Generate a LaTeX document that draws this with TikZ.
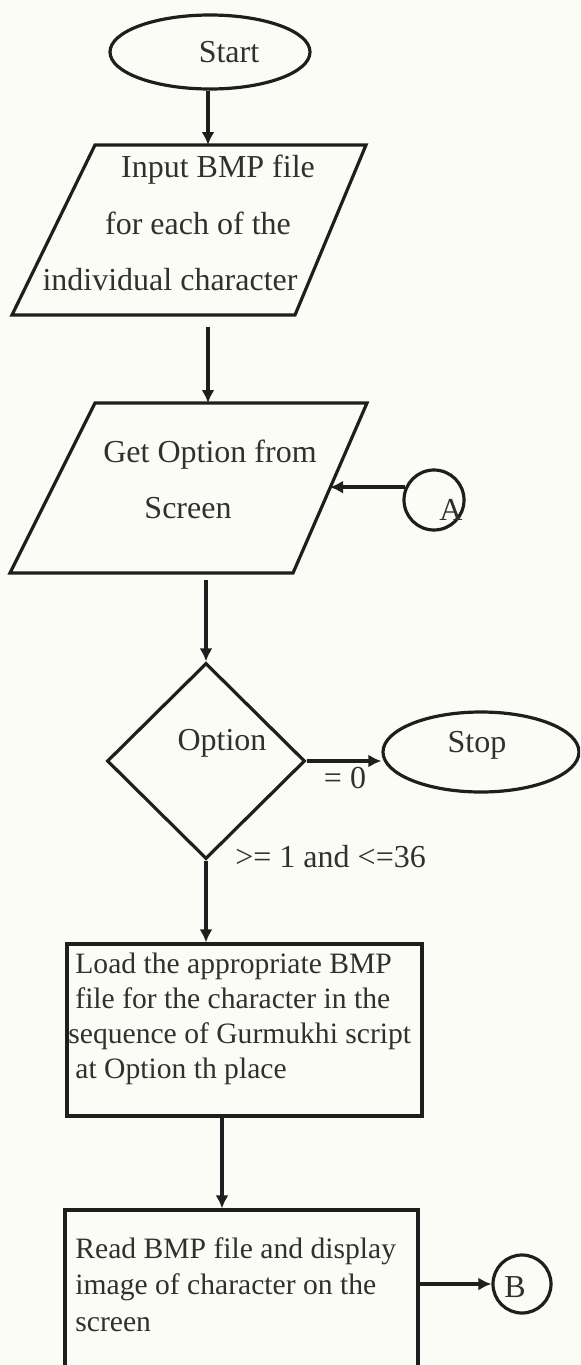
\documentclass[tikz,border=0pt]{standalone}
\usepackage{fontspec}
\setmainfont{Liberation Serif}
\usetikzlibrary{shapes.geometric,arrows.meta,calc}
\definecolor{ink}{HTML}{1E1E1E}
\definecolor{txtc}{HTML}{303030}
\definecolor{paper}{HTML}{FCFCF7}
\begin{document}
\begin{tikzpicture}[x=0.5pt,y=-0.5pt,
 line/.style={draw=ink,line width=1.6pt,line join=miter},
 arr/.style={draw=ink,line width=1.7pt,-{Latex[length=6.5pt,width=6.5pt]}},
 term/.style={ellipse,draw=ink,line width=1.6pt,inner sep=0pt},
 conn/.style={circle,draw=ink,line width=1.6pt,inner sep=0pt},
 proc/.style={rectangle,draw=ink,line width=1.6pt,inner sep=0pt},
 dec/.style={diamond,draw=ink,line width=1.6pt,inner sep=0pt},
 txt/.style={text=txtc,inner sep=0pt,font=\fontsize{16pt}{19pt}\selectfont},
 btxt/.style={text=txtc,inner sep=0pt,align=left,font=\fontsize{14.8pt}{17.5pt}\selectfont},
 btxtb/.style={text=txtc,inner sep=0pt,align=left,font=\fontsize{14.8pt}{18.25pt}\selectfont}]
\fill[paper] (0,0) rectangle (580,1365);
\useasboundingbox (0,0) rectangle (580,1365);
\clip (0,0) rectangle (580,1365);

% Start
\node[term,minimum width=100pt,minimum height=37pt] (start) at (210,52) {};
\node[txt,anchor=base] (starttxt) at (229,62) {Start};

% Input parallelogram
\draw[line] (95,145) coordinate (p1tl) -- (366,145) coordinate (p1tr) -- (295,315) coordinate (p1br) -- (12,315) coordinate (p1bl) -- cycle;
\coordinate (p1t) at (208,145);
\coordinate (p1b) at (208,315);
\node[txt,anchor=base] (in1) at (218,177) {Input BMP file};
\node[txt,anchor=base] (in2) at (198,234) {for each of the};
\node[txt,anchor=base] (in3) at (170,290) {individual character};

% Get option parallelogram
\draw[line] (95,403) coordinate (p2tl) -- (367,403) coordinate (p2tr) -- (293,573) coordinate (p2br) -- (10,573) coordinate (p2bl) -- cycle;
\coordinate (p2t) at (208,403);
\coordinate (p2b) at (206,573);
\coordinate (p2r) at (330,488);
\node[txt,anchor=base] (go1) at (210,462) {Get Option from};
\node[txt,anchor=base] (go2) at (188,518) {Screen};

% connector A
\node[conn,minimum size=30pt] (A) at (434,500) {};
\node[txt,anchor=base] (Atxt) at (451,520) {A};

% decision
\node[dec,minimum width=99pt,minimum height=98pt] (D) at (206,761) {};
\node[txt,anchor=base] (opt) at (222,750) {Option};

% Stop
\node[term,minimum width=98pt,minimum height=40pt] (stop) at (481,752) {};
\node[txt,anchor=base] (stoptxt) at (477,752) {Stop};

\node[txt,anchor=base] (eq0) at (345,788) {= 0};
\node[txt,anchor=base west] (rng) at (235,867) {>= 1 and <=36};

% Box 1
\node[proc,minimum width=177.5pt,minimum height=86pt] (box1) at (244.5,1030) {};
\node[btxt,anchor=north west] (b1t) at (75,953) {Load the appropriate BMP\\file for the character in the\\\hspace*{-3.5pt}sequence of Gurmukhi script\\at Option th place};

% Box 2
\node[proc,minimum width=176.5pt,minimum height=100pt] (box2) at (241.5,1310) {};
\node[btxtb,anchor=north west] (b2t) at (75,1237) {Read BMP file and display\\image of character on the\\screen};

% connector B
\node[conn,minimum size=29pt] (B) at (522,1284) {};
\node[txt,anchor=base] (Btxt) at (515,1297) {B};

% arrows
\draw[arr] (p1t |- start.south) -- (p1t);
\draw[arr,shorten <=6pt] (p1b) -- (p2t);
\draw[arr,shorten <=3.5pt] (p2b) -- (D.north);
\draw[arr] (A.156) -- (A.156 -| p2r);
\draw[arr] (D.east) -- (stop.west |- D.east);
\draw[arr] (D.south) -- (D.south |- box1.north);
\draw[arr] ([xshift=-11.25pt]box1.south) -- ([xshift=-11.25pt]box1.south |- box2.north);
\draw[arr] (box2.east |- B.west) -- (B.west);
\end{tikzpicture}
\end{document}
